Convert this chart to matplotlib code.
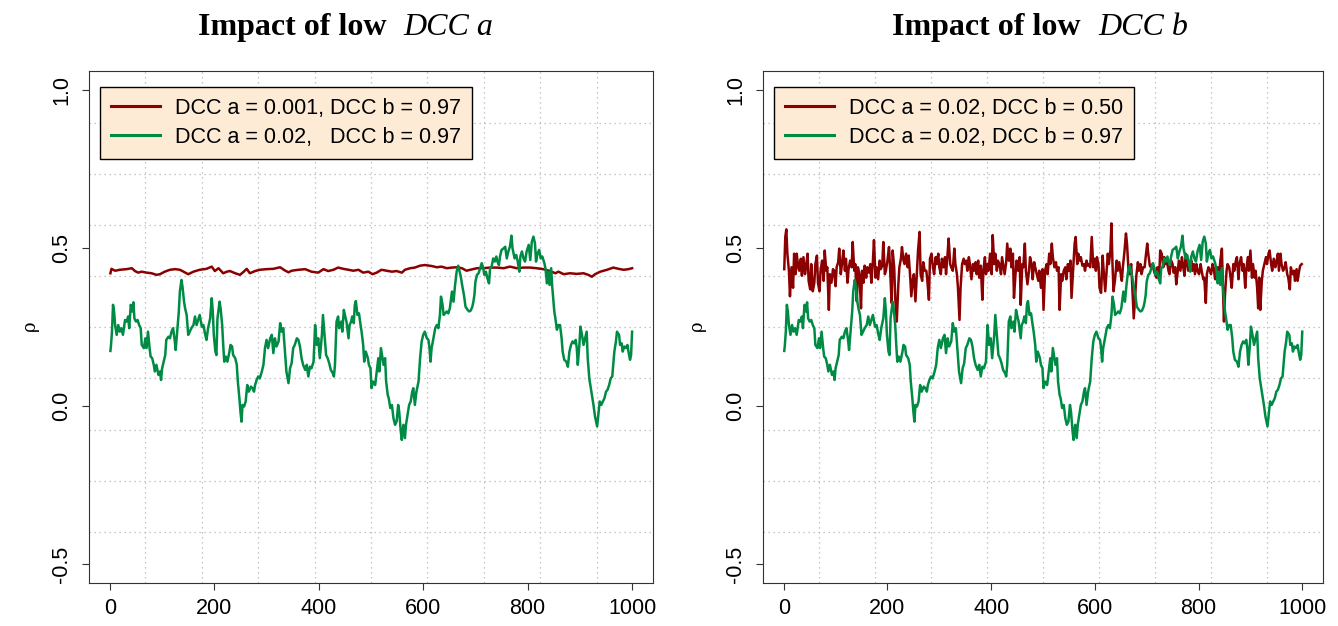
import numpy as np
import matplotlib.pyplot as plt
from matplotlib.lines import Line2D

# DCC a = 0.02, DCC b = 0.97 (same series in both panels)
green_t = [1, 2, 4, 6, 8, 10, 13, 16, 19, 22, 25, 29, 32, 35, 37, 40, 43, 45, 47, 50,
           53, 56, 59, 61, 65, 68, 70, 73, 76, 78, 81, 84, 86, 89, 93, 96, 98, 100, 103, 106,
           108, 112, 115, 118, 121, 124, 126, 130, 132, 134, 137, 139, 142, 144, 147, 150, 153, 156, 160, 163,
           166, 169, 172, 176, 179, 182, 185, 188, 192, 195, 197, 199, 202, 204, 206, 210, 212, 215, 217, 219,
           222, 225, 229, 231, 234, 236, 240, 243, 245, 248, 250, 252, 254, 257, 260, 263, 266, 270, 273, 276,
           278, 281, 284, 287, 291, 294, 297, 300, 303, 307, 310, 313, 316, 319, 323, 326, 329, 332,
           335, 338, 342, 345, 348, 351, 354, 358, 361, 364, 367, 370, 374, 377, 380, 383, 386, 390,
           393, 396, 399, 402, 406, 408, 411, 414, 417, 420, 423, 427, 429, 431, 434, 437, 439, 443,
           445, 448, 450, 453, 457, 459, 462, 464, 467, 469, 471, 474, 477, 480, 482, 485, 487, 490,
           494, 496, 499, 501, 504, 508, 511, 514, 516, 519, 522, 524, 527, 529, 532, 534, 537, 540,
           543, 546, 549, 552, 554, 557, 559, 562, 565, 567, 570, 573, 576, 579, 581, 584, 587, 591,
           594, 597, 600, 603, 607, 610, 612, 614, 616, 619, 623, 626, 629, 632, 634, 637, 639, 642,
           645, 648, 651, 655, 658, 661, 664, 667, 669, 672, 675, 678, 681, 685, 688,
           691, 694, 696, 698, 700, 703, 706, 709, 712, 715, 717, 720, 723, 726, 728, 731, 734, 737,
           740, 742, 745, 747, 750, 754, 757, 760, 763, 766, 769, 771, 775, 778, 781, 784, 786, 789,
           792, 795, 798, 802, 805, 808, 811, 814, 816, 819, 822, 825, 828, 832, 834, 837, 839, 842,
           845, 847, 851, 853, 856, 859, 862, 865, 867, 870, 874, 877, 880, 883, 886, 889, 892, 894,
           896, 899, 901, 904, 907, 910, 913, 915, 918, 921, 923, 926, 929, 931, 933, 936, 938, 941,
           944, 947, 950, 953, 956, 959, 962, 966, 969, 971, 975, 977, 980, 982, 985, 988, 991, 993,
           996, 998, 1000]
green_rho = [0.175, 0.19, 0.236, 0.321, 0.30, 0.257, 0.226, 0.257, 0.236, 0.247, 0.226, 0.273, 0.268, 0.284, 0.247, 0.321, 0.30, 0.329, 0.278, 0.268,
             0.273, 0.257, 0.247, 0.194, 0.184, 0.215, 0.184, 0.236, 0.184, 0.157, 0.152, 0.131, 0.110, 0.131, 0.099, 0.110, 0.083, 0.120, 0.141, 0.162,
             0.210, 0.220, 0.215, 0.236, 0.247, 0.210, 0.178, 0.257, 0.300, 0.363, 0.400, 0.379, 0.331, 0.310, 0.289, 0.226, 0.236, 0.247, 0.257, 0.284,
             0.257, 0.273, 0.289, 0.252, 0.257, 0.231, 0.210, 0.247, 0.278, 0.342, 0.300, 0.226, 0.173, 0.162, 0.278, 0.331, 0.310, 0.257, 0.194, 0.141,
             0.157, 0.141, 0.173, 0.194, 0.189, 0.162, 0.152, 0.131, 0.078, 0.025, -0.017, -0.049, 0.004, -0.001, 0.015, 0.067, 0.046, 0.062, 0.057, 0.046,
             0.067, 0.083, 0.094, 0.088, 0.110, 0.131, 0.184, 0.210, 0.184, 0.215, 0.226, 0.168, 0.215, 0.189, 0.205, 0.263, 0.236, 0.247,
             0.178, 0.110, 0.073, 0.120, 0.136, 0.184, 0.194, 0.215, 0.210, 0.189, 0.152, 0.131, 0.115, 0.131, 0.094, 0.125, 0.120, 0.141,
             0.257, 0.194, 0.215, 0.152, 0.226, 0.289, 0.226, 0.162, 0.152, 0.136, 0.115, 0.104, 0.094, 0.131, 0.268, 0.284, 0.247, 0.268,
             0.236, 0.305, 0.289, 0.268, 0.215, 0.257, 0.268, 0.284, 0.263, 0.321, 0.333, 0.289, 0.294, 0.257, 0.236, 0.194, 0.141, 0.173,
             0.152, 0.131, 0.120, 0.057, 0.078, 0.067, 0.110, 0.152, 0.110, 0.184, 0.152, 0.131, 0.152, 0.078, 0.036, 0.025, -0.006, 0.004,
             -0.038, -0.059, -0.049, 0.004, -0.017, -0.080, -0.107, -0.059, -0.101, -0.059, -0.027, 0.004, 0.015, 0.046, 0.057, 0.004, 0.046, 0.078,
             0.152, 0.205, 0.226, 0.236, 0.215, 0.210, 0.184, 0.141, 0.184, 0.210, 0.247, 0.257, 0.247, 0.289, 0.347, 0.321, 0.289, 0.294,
             0.300, 0.294, 0.310, 0.363, 0.331, 0.384, 0.426, 0.445, 0.432, 0.410, 0.379, 0.352, 0.315, 0.305, 0.300,
             0.303, 0.315, 0.330, 0.352, 0.395, 0.416, 0.421, 0.437, 0.453, 0.437, 0.416, 0.426, 0.405, 0.389, 0.437, 0.442, 0.468, 0.458,
             0.474, 0.458, 0.447, 0.474, 0.495, 0.500, 0.505, 0.468, 0.490, 0.505, 0.540, 0.500, 0.468, 0.479, 0.458, 0.426, 0.474, 0.490,
             0.468, 0.458, 0.490, 0.511, 0.463, 0.521, 0.537, 0.516, 0.458, 0.484, 0.495, 0.468, 0.474, 0.453, 0.437, 0.389, 0.426, 0.384,
             0.437, 0.379, 0.300, 0.279, 0.242, 0.257, 0.257, 0.215, 0.173, 0.147, 0.141, 0.125, 0.173, 0.194, 0.205, 0.199, 0.210, 0.184,
             0.131, 0.194, 0.252, 0.226, 0.194, 0.215, 0.236, 0.152, 0.088, 0.057, 0.036, 0.004, -0.033, -0.049, -0.064, -0.017, 0.015, 0.004,
             0.015, 0.025, 0.046, 0.052, 0.067, 0.088, 0.094, 0.173, 0.205, 0.236, 0.226, 0.194, 0.199, 0.173, 0.189, 0.184, 0.194, 0.173,
             0.147, 0.162, 0.236]

# DCC a = 0.001, DCC b = 0.97 (left panel)
red_a_t = [1, 3, 10, 19, 32, 42, 48, 54, 61, 70, 80, 89, 96, 105, 115, 125, 134, 141, 150, 160,
           172, 185, 195, 201, 208, 217, 224, 230, 240, 249, 255, 262, 268, 278, 287, 300, 313, 326, 335, 342,
           348, 361, 374, 386, 399, 409, 418, 428, 437, 447, 457, 466, 476, 485, 495, 503, 511, 520, 530, 540,
           549, 559, 565, 575, 584, 594, 603, 616, 626, 635, 645, 655, 664, 674, 683, 690, 703, 715, 728, 741,
           754, 766, 779, 792, 805, 817, 830, 843, 853, 859, 869, 881, 894, 907, 916, 923, 929, 939, 952, 964,
           974, 984, 993, 1000]
red_a_rho = [0.421, 0.435, 0.429, 0.432, 0.434, 0.437, 0.428, 0.423, 0.426, 0.423, 0.421, 0.416, 0.418, 0.426, 0.432, 0.434, 0.432, 0.426, 0.418, 0.426,
             0.432, 0.435, 0.442, 0.428, 0.437, 0.421, 0.426, 0.428, 0.421, 0.416, 0.424, 0.435, 0.421, 0.428, 0.432, 0.434, 0.435, 0.440, 0.430, 0.424,
             0.429, 0.432, 0.434, 0.426, 0.423, 0.434, 0.428, 0.432, 0.439, 0.435, 0.432, 0.429, 0.432, 0.423, 0.426, 0.418, 0.423, 0.432, 0.429, 0.426,
             0.428, 0.423, 0.432, 0.437, 0.439, 0.445, 0.447, 0.444, 0.440, 0.442, 0.437, 0.439, 0.440, 0.437, 0.429, 0.432, 0.437, 0.437, 0.439, 0.439,
             0.437, 0.442, 0.437, 0.439, 0.439, 0.437, 0.434, 0.428, 0.421, 0.426, 0.418, 0.421, 0.419, 0.421, 0.416, 0.410, 0.418, 0.426, 0.432, 0.439,
             0.435, 0.432, 0.434, 0.437]

# DCC a = 0.02, DCC b = 0.50 (right panel)
red_b_t = [1, 2, 3, 5, 7, 10, 12, 14, 15, 18, 20, 23, 25, 28, 30, 33, 35, 38, 41, 43,
           46, 48, 51, 53, 56, 59, 61, 64, 66, 69, 71, 74, 77, 79, 82, 84, 87, 89, 92, 95,
           97, 100, 102, 105, 107, 110, 113, 115, 118, 120, 123, 125, 128, 131, 133, 136, 138, 141, 143, 146,
           149, 151, 154, 156, 159, 161, 164, 167, 169, 172, 174, 177, 179, 182, 185, 187, 190, 192, 195, 197,
           200, 203, 205, 208, 210, 213, 215, 218, 221, 223, 226, 228, 231, 233, 236, 239, 241, 244, 246, 249,
           251, 254, 257, 259, 262, 264, 267, 269, 272, 275, 277, 280, 282, 285, 287, 290, 293, 295, 298, 300,
           303, 305, 308, 311, 313, 316, 318, 321, 323, 326, 329, 331, 334, 336, 339, 341, 344, 347, 349, 352,
           354, 357, 359, 362, 365, 367, 370, 372, 375, 377, 380, 383, 385, 388, 390, 393, 395, 398, 401, 403,
           406, 408, 411, 413, 416, 419, 421, 424, 426, 429, 431, 434, 437, 439, 442, 444, 447, 449, 452, 455,
           457, 460, 462, 465, 467, 470, 473, 475, 478, 480, 483, 485, 488, 491, 493, 496, 499, 501, 504, 507,
           509, 512, 514, 517, 519, 522, 525, 527, 530, 532, 535, 537, 540, 543, 545, 548, 550, 553, 555, 558,
           561, 563, 566, 568, 571, 573, 576, 579, 581, 584, 586, 589, 591, 594, 597, 599, 602, 604, 607, 609,
           612, 615, 617, 620, 622, 625, 627, 630, 632, 634, 636, 639, 642, 644, 647, 649, 652, 654, 657, 660,
           662, 665, 667, 670, 672, 675, 678, 680, 683, 685, 688, 690, 693, 696, 698, 701, 703, 706, 708, 711,
           714, 716, 719, 721, 724, 726, 729, 732, 734, 737, 739, 742, 744, 747, 750, 752, 755, 757, 760, 762,
           765, 768, 770, 773, 775, 778, 780, 783, 786, 788, 791, 793, 796, 798, 801, 804, 806, 809, 811, 814,
           816, 819, 822, 824, 827, 829, 832, 834, 837, 840, 842, 845, 847, 849, 851, 854, 856, 859, 861, 864,
           867, 869, 872, 874, 877, 879, 882, 885, 887, 890, 892, 895, 897, 900, 903, 905, 908, 910, 913, 915,
           917, 919, 922, 924, 927, 930, 932, 935, 937, 940, 942, 945, 948, 950, 953, 955, 958, 960, 963, 966,
           968, 971, 973, 976, 978, 981, 984, 986, 989, 991, 994, 996, 999]
red_b_rho = [0.434, 0.488, 0.536, 0.560, 0.483, 0.429, 0.348, 0.407, 0.440, 0.375, 0.483, 0.418, 0.483, 0.440, 0.429, 0.467, 0.413, 0.472, 0.418, 0.440,
             0.483, 0.397, 0.370, 0.450, 0.364, 0.391, 0.450, 0.477, 0.391, 0.364, 0.429, 0.461, 0.397, 0.493, 0.429, 0.440, 0.305, 0.418, 0.391, 0.434,
             0.429, 0.380, 0.440, 0.456, 0.499, 0.418, 0.461, 0.493, 0.429, 0.467, 0.391, 0.434, 0.461, 0.440, 0.520, 0.429, 0.450, 0.332, 0.440, 0.418,
             0.310, 0.429, 0.391, 0.445, 0.407, 0.440, 0.423, 0.450, 0.391, 0.461, 0.526, 0.407, 0.440, 0.402, 0.461, 0.434, 0.445, 0.520, 0.418, 0.429,
             0.461, 0.504, 0.440, 0.327, 0.493, 0.440, 0.343, 0.268, 0.386, 0.440, 0.467, 0.504, 0.461, 0.450, 0.483, 0.440, 0.477, 0.407, 0.348, 0.402,
             0.418, 0.332, 0.429, 0.493, 0.552, 0.418, 0.397, 0.456, 0.429, 0.429, 0.397, 0.337, 0.467, 0.483, 0.450, 0.418, 0.472, 0.450, 0.483, 0.440,
             0.418, 0.467, 0.440, 0.472, 0.418, 0.483, 0.531, 0.450, 0.440, 0.429, 0.499, 0.450, 0.418, 0.375, 0.273, 0.375, 0.450, 0.467, 0.450, 0.461,
             0.429, 0.472, 0.450, 0.402, 0.450, 0.429, 0.456, 0.418, 0.461, 0.407, 0.445, 0.337, 0.429, 0.472, 0.418, 0.450, 0.429, 0.483, 0.418, 0.542,
             0.450, 0.483, 0.429, 0.461, 0.450, 0.418, 0.472, 0.440, 0.418, 0.456, 0.515, 0.461, 0.499, 0.440, 0.483, 0.343, 0.418, 0.461, 0.429, 0.472,
             0.321, 0.450, 0.440, 0.515, 0.429, 0.386, 0.429, 0.472, 0.450, 0.402, 0.456, 0.440, 0.418, 0.397, 0.429, 0.375, 0.434, 0.305, 0.429, 0.450,
             0.418, 0.483, 0.450, 0.515, 0.472, 0.440, 0.456, 0.429, 0.440, 0.305, 0.418, 0.397, 0.429, 0.440, 0.402, 0.450, 0.429, 0.461, 0.343, 0.429,
             0.515, 0.536, 0.450, 0.483, 0.461, 0.472, 0.445, 0.450, 0.429, 0.461, 0.445, 0.450, 0.440, 0.536, 0.440, 0.467, 0.429, 0.472, 0.450, 0.375,
             0.359, 0.477, 0.429, 0.364, 0.413, 0.483, 0.450, 0.493, 0.579, 0.450, 0.364, 0.402, 0.461, 0.429, 0.456, 0.429, 0.397, 0.440, 0.488, 0.547,
             0.515, 0.429, 0.418, 0.450, 0.386, 0.278, 0.353, 0.413, 0.456, 0.429, 0.450, 0.418, 0.440, 0.440, 0.472, 0.515, 0.483, 0.445, 0.440, 0.450,
             0.429, 0.418, 0.407, 0.440, 0.402, 0.493, 0.483, 0.440, 0.472, 0.450, 0.461, 0.429, 0.418, 0.461, 0.450, 0.423, 0.440, 0.386, 0.429, 0.461,
             0.429, 0.472, 0.445, 0.413, 0.483, 0.450, 0.429, 0.440, 0.461, 0.429, 0.450, 0.418, 0.450, 0.429, 0.418, 0.450, 0.429, 0.402, 0.407, 0.327,
             0.418, 0.440, 0.429, 0.418, 0.450, 0.440, 0.402, 0.429, 0.440, 0.413, 0.461, 0.499, 0.375, 0.268, 0.353, 0.429, 0.450, 0.440, 0.418, 0.375,
             0.450, 0.429, 0.461, 0.472, 0.402, 0.450, 0.472, 0.429, 0.450, 0.375, 0.429, 0.472, 0.429, 0.493, 0.407, 0.450, 0.407, 0.429, 0.375, 0.310,
             0.407, 0.305, 0.397, 0.429, 0.450, 0.472, 0.450, 0.483, 0.493, 0.450, 0.429, 0.467, 0.440, 0.456, 0.483, 0.429, 0.483, 0.450, 0.429, 0.440,
             0.456, 0.418, 0.407, 0.370, 0.440, 0.418, 0.429, 0.397, 0.434, 0.397, 0.429, 0.445, 0.450]

titles = ["DCC a", "DCC b"]
labels_left = ["DCC a = 0.001, DCC b = 0.97", "DCC a = 0.02,   DCC b = 0.97"]
labels_right = ["DCC a = 0.02, DCC b = 0.50", "DCC a = 0.02, DCC b = 0.97"]
xticks = [0, 200, 400, 600, 800, 1000]
yticks = [-0.5, 0.0, 0.5, 1.0]

RED = "#8B0000"
GREEN = "#008B45"
FS = 15.5

plt.rcParams['font.family'] = ['Liberation Sans', 'DejaVu Sans']

fig = plt.figure(figsize=(13.38, 6.26), dpi=100)
W, H = 1338, 626


def panel(left_px, right_px, red_t, red_rho, labels, title_word, title_px, ylab_px):
    ax = fig.add_axes([left_px / W, 1 - 583 / H, (right_px - left_px) / W, 511.5 / H])
    ax.set_xlim(-40, 1040)
    ax.set_ylim(-0.56, 1.06)
    # R style grid(10, 10): lines split each range into ten cells
    for gx in np.linspace(-40, 1040, 11)[1:-1]:
        ax.axvline(gx, color="#b4b4b4", lw=0.9, ls=(0, (1, 3)), zorder=0)
    for gy in np.linspace(-0.56, 1.06, 11)[1:-1]:
        ax.axhline(gy, color="#b4b4b4", lw=0.9, ls=(0, (1, 3)), zorder=0)

    ax.plot(red_t, red_rho, color=RED, lw=1.8, zorder=2)
    ax.plot(green_t, green_rho, color=GREEN, lw=1.8, zorder=3)

    ax.set_xticks(xticks)
    ax.set_xticklabels([str(v) for v in xticks])
    ax.set_yticks(yticks)
    ax.set_yticklabels(["%.1f" % v for v in yticks], rotation=90, va="center")
    ax.tick_params(axis="both", direction="out", length=5, width=0.8, labelsize=FS, color="#333333")
    ax.tick_params(axis="x", pad=5.5)
    ax.tick_params(axis="y", pad=7)
    for s in ax.spines.values():
        s.set_color("#333333")
        s.set_linewidth(0.8)

    handles = [Line2D([], [], color=RED, lw=2.2), Line2D([], [], color=GREEN, lw=2.2)]
    leg = ax.legend(handles, labels, loc="upper left",
                    bbox_to_anchor=(11 / (right_px - left_px), 0.970),
                    borderaxespad=0, fontsize=FS, frameon=True, fancybox=False,
                    facecolor="#FDEBD6", edgecolor="black", framealpha=1,
                    borderpad=0.5, labelspacing=0.39, handlelength=2.28, handletextpad=0.7)
    leg.get_frame().set_linewidth(1.0)
    leg.set_zorder(5)

    fig.text(title_px[0] / W, 1 - 35 / H, "Impact of low", ha="right", va="baseline",
             fontsize=23, fontweight="bold", family="Liberation Serif")
    fig.text(title_px[1] / W, 1 - 35 / H, title_word, ha="left", va="baseline",
             fontsize=23, style="italic", family="Liberation Serif")
    fig.text(ylab_px / W, 1 - 326 / H, "\u03c1", rotation=90, ha="center", va="center",
             fontsize=13, family="DejaVu Serif")
    return ax


panel(89, 653, red_a_t, red_a_rho, labels_left, titles[0], (386, 403), 30)
panel(763, 1323, red_b_t, red_b_rho, labels_right, titles[1], (1081, 1098), 697)

fig.savefig("out.png", dpi=100)
